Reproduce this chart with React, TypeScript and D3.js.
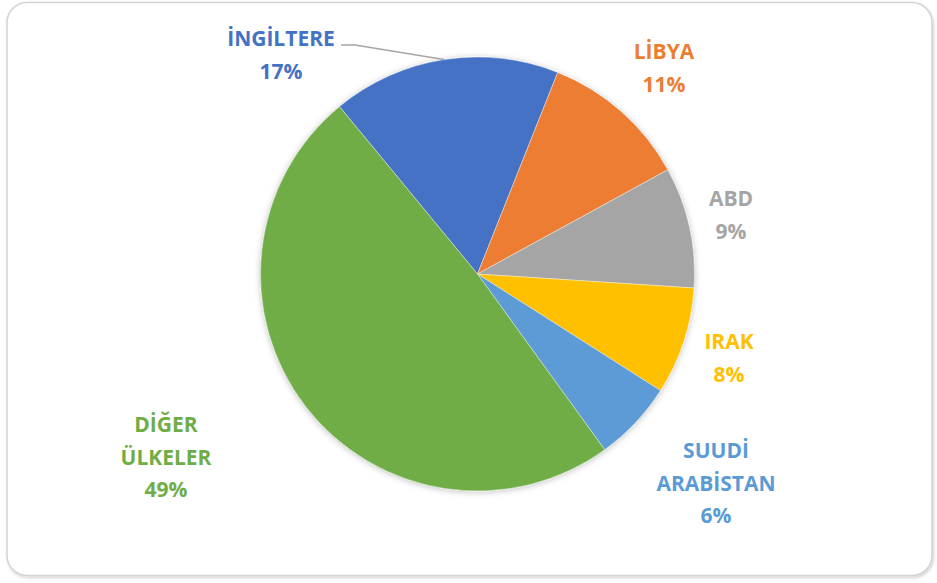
import React from "react";
import * as d3 from "d3";

const countries = ["İNGİLTERE", "LİBYA", "ABD", "IRAK", "SUUDİ ARABİSTAN", "DİĞER ÜLKELER"];
const labelLines = [["İNGİLTERE"], ["LİBYA"], ["ABD"], ["IRAK"], ["SUUDİ", "ARABİSTAN"], ["DİĞER", "ÜLKELER"]];
const shares = [17, 11, 9, 8, 6, 49];
const colors = ["#4472C4", "#ED7D31", "#A5A5A5", "#FFC000", "#5B9BD5", "#70AD47"];

// layout: label anchor (center x, first baseline y)
const labelAnchors: [number, number][] = [
  [281, 46],
  [664, 59],
  [731, 206],
  [729, 349],
  [716, 458],
  [166, 432],
];

const W = 937;
const H = 583;
const cx = 477.5;
const cy = 274;
const R = 217;
const startAngle = (-39.5 * Math.PI) / 180;
const lineGap = 32.5;

export default function App() {
  const total = d3.sum(shares);
  const pie = d3
    .pie<number>()
    .sort(null)
    .startAngle(startAngle)
    .endAngle(startAngle + 2 * Math.PI);
  const arcs = pie(shares);
  const arcGen = d3.arc<d3.PieArcDatum<number>>().innerRadius(0).outerRadius(R);
  const edgeArc = d3.arc<d3.PieArcDatum<number>>().innerRadius(R).outerRadius(R);
  const fmt = (v: number) => `${Math.round((v / total) * 100)}%`;

  const edge = edgeArc.centroid(arcs[0]);
  const [lx, ly] = labelAnchors[0];

  return (
    <svg
      width={W}
      height={H}
      style={{ position: "fixed", left: 0, top: 0, background: "#fff" }}
      fontFamily="'Open Sans', sans-serif"
    >
      <defs>
        <filter id="pieShadow" x="-10%" y="-10%" width="120%" height="120%">
          <feDropShadow dx="0" dy="1" stdDeviation="3" floodColor="#000" floodOpacity="0.25" />
        </filter>
        <filter id="boxShadow" x="-5%" y="-5%" width="110%" height="110%">
          <feDropShadow dx="1" dy="1.5" stdDeviation="1.5" floodColor="#000" floodOpacity="0.2" />
        </filter>
      </defs>
      <rect
        x={7}
        y={2.5}
        width={925}
        height={573}
        rx={20}
        ry={20}
        fill="#fff"
        stroke="#d4d4d4"
        strokeWidth={1.5}
        filter="url(#boxShadow)"
      />
      <g transform={`translate(${cx},${cy})`} filter="url(#pieShadow)">
        {arcs.map((a, i) => (
          <path key={countries[i]} d={arcGen(a) || ""} fill={colors[i]} stroke="#fff" strokeWidth={0.4} />
        ))}
      </g>
      <polyline
        points={`${lx + 60},${ly - 1} ${lx + 74},${ly - 1} ${cx + edge[0]},${cy + edge[1]}`}
        fill="none"
        stroke="#A6A6A6"
        strokeWidth={1.5}
      />
      {arcs.map((a, i) => {
        const [x, y] = labelAnchors[i];
        const lines = [...labelLines[i], fmt(a.data)];
        return (
          <text
            key={countries[i]}
            x={x}
            y={y}
            textAnchor="middle"
            fill={colors[i]}
            fontSize={21}
            fontWeight={700}
          >
            {lines.map((t, j) => (
              <tspan key={j} x={x} y={y + j * lineGap}>
                {t}
              </tspan>
            ))}
          </text>
        );
      })}
    </svg>
  );
}
